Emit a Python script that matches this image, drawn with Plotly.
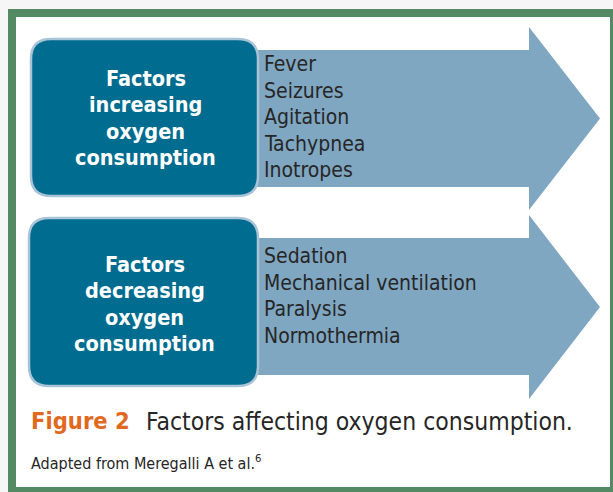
import plotly.graph_objects as go

# ---- content ----
box_titles = [
    ["Factors", "increasing", "oxygen", "consumption"],
    ["Factors", "decreasing", "oxygen", "consumption"],
]
increasing_factors = ["Fever", "Seizures", "Agitation", "Tachypnea", "Inotropes"]
decreasing_factors = ["Sedation", "Mechanical ventilation", "Paralysis", "Normothermia"]
figure_label = "Figure 2"
figure_title = "Factors affecting oxygen consumption."
source_note = "Adapted from Meregalli A et al.<sup>6</sup>"

# ---- styles / geometry ----
W, H = 613, 492
GREEN = "#548a63"
BOX = "#006c8f"
BOX_EDGE = "#a9c4d6"
ARROW = "#7fa7c2"
TEXT = "#262626"
ORANGE = "#e0691f"
NARROW = "DejaVu Sans Condensed, Liberation Sans Narrow, sans-serif"

fig = go.Figure()
shapes = []

# frame
shapes.append(dict(type="rect", x0=12, y0=13, x1=614, y1=491,
                   line=dict(color=GREEN, width=8), fillcolor="white", layer="below"))


def arrow(x0, xh, xt, by0, by1, hy0, hy1):
    ym = (hy0 + hy1) / 2
    return (f"M {x0},{by0} L {xh},{by0} L {xh},{hy0} L {xt},{ym} "
            f"L {xh},{hy1} L {xh},{by1} L {x0},{by1} Z")


def rrect(x0, y0, x1, y1, r):
    return (f"M {x0+r},{y0} L {x1-r},{y0} Q {x1},{y0} {x1},{y0+r} "
            f"L {x1},{y1-r} Q {x1},{y1} {x1-r},{y1} L {x0+r},{y1} "
            f"Q {x0},{y1} {x0},{y1-r} L {x0},{y0+r} Q {x0},{y0} {x0+r},{y0} Z")


arrows = [(250, 529, 600, 50, 187, 27, 210), (250, 529, 600, 238, 375, 215, 399)]
boxes = [(31, 39, 258, 196), (29, 218, 258, 386)]

for a in arrows:
    shapes.append(dict(type="path", path=arrow(*a), fillcolor=ARROW,
                       line=dict(width=0), layer="above"))
for b in boxes:
    shapes.append(dict(type="path", path=rrect(*b, 20), fillcolor=BOX,
                       line=dict(color=BOX_EDGE, width=2.5), layer="above"))

ann = []
title_starts = [78, 264]
for (b, lines, y0) in zip(boxes, box_titles, title_starts):
    cx = (b[0] + b[2]) / 2 + 1
    for i, t in enumerate(lines):
        ann.append(dict(x=cx, y=y0 + i * 26.5, text=f"<b>{t}</b>", showarrow=False,
                        xanchor="center", yanchor="middle",
                        font=dict(family=NARROW, size=21.5, color="white")))

for items, y0 in [(increasing_factors, 64), (decreasing_factors, 256)]:
    for i, t in enumerate(items):
        ann.append(dict(x=262, y=y0 + i * 26.5, text=t, showarrow=False,
                        xanchor="left", yanchor="middle",
                        font=dict(family=NARROW, size=21, color=TEXT)))

ann.append(dict(x=29, y=421, text=f"<b>{figure_label}</b>", showarrow=False,
                xanchor="left", yanchor="middle",
                font=dict(family=NARROW, size=23.5, color=ORANGE)))
ann.append(dict(x=144, y=421, text=figure_title, showarrow=False,
                xanchor="left", yanchor="middle",
                font=dict(family=NARROW, size=24.5, color=TEXT)))
ann.append(dict(x=29, y=462, text=source_note, showarrow=False,
                xanchor="left", yanchor="middle",
                font=dict(family=NARROW, size=16, color=TEXT)))

fig.update_layout(
    width=W, height=H, margin=dict(l=0, r=0, t=0, b=0),
    paper_bgcolor="#f6f6f6", plot_bgcolor="rgba(0,0,0,0)",
    xaxis=dict(range=[0, W], visible=False, fixedrange=True),
    yaxis=dict(range=[H, 0], visible=False, fixedrange=True),
    shapes=shapes, annotations=ann, showlegend=False,
)

fig.write_html("out.html", config={"displayModeBar": False},
               post_script="document.body.style.margin='0';document.body.style.overflow='hidden';")
